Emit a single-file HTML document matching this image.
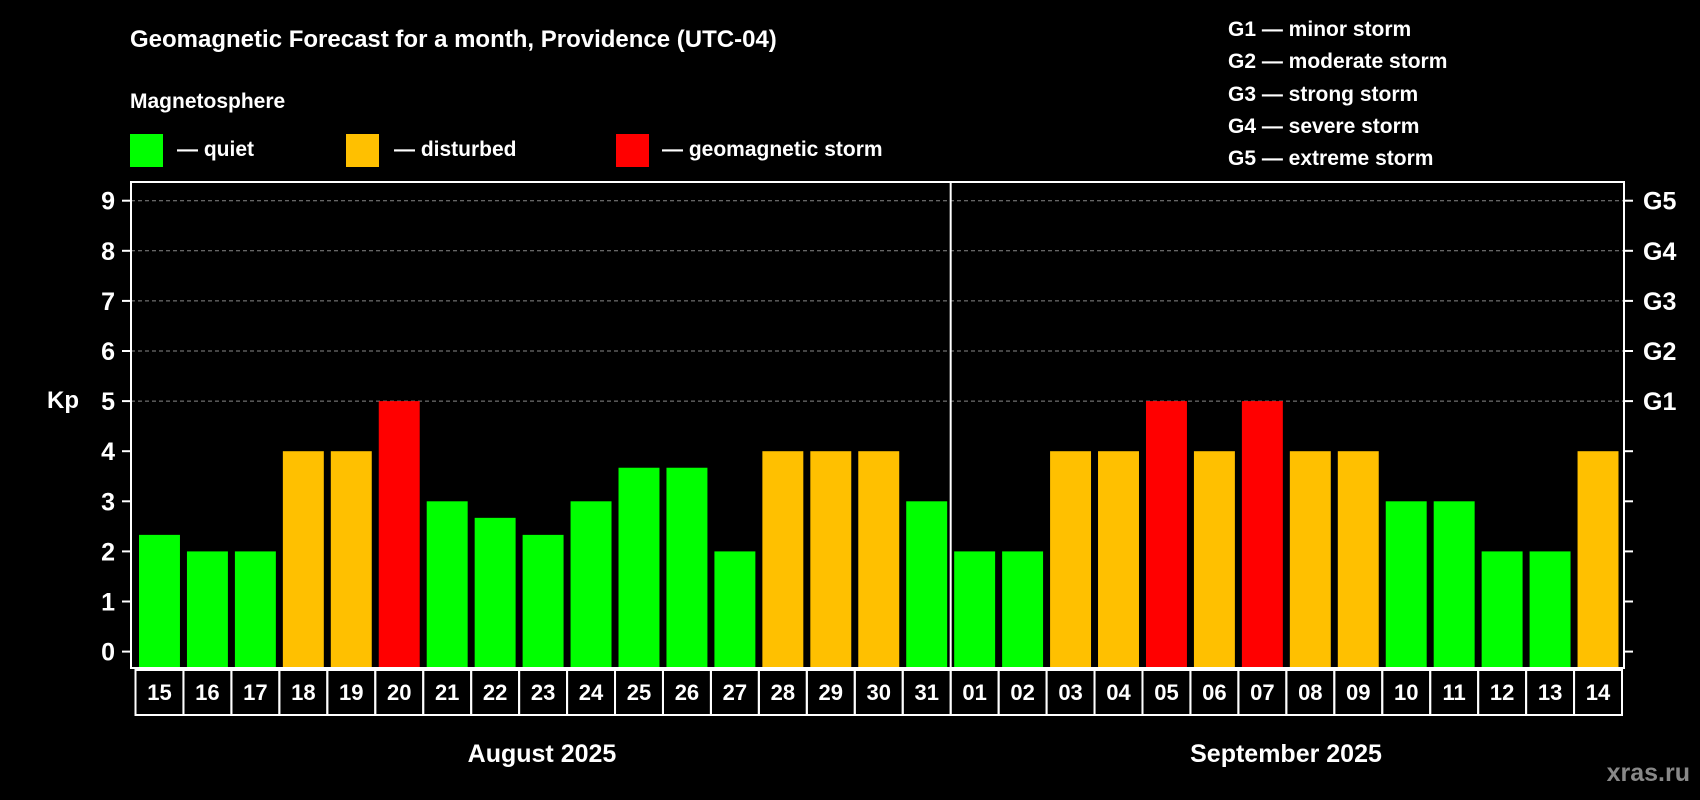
<!DOCTYPE html>
<html><head><meta charset="utf-8"><style>
html,body{margin:0;padding:0;background:#000;}
svg{display:block;font-family:"Liberation Sans",sans-serif;font-weight:bold;}
</style></head><body>
<svg id="c" width="1700" height="800" viewBox="0 0 1700 800">
<rect width="1700" height="800" fill="#000"/>
<text x="130" y="47" fill="#fff" font-size="24">Geomagnetic Forecast for a month, Providence (UTC-04)</text>
<text x="130" y="108" fill="#fff" font-size="21">Magnetosphere</text>
<rect x="130" y="134" width="33" height="33" fill="#00ff00"/>
<text x="177" y="156" fill="#fff" font-size="21">— quiet</text>
<rect x="346" y="134" width="33" height="33" fill="#ffc000"/>
<text x="394" y="156" fill="#fff" font-size="21">— disturbed</text>
<rect x="616" y="134" width="33" height="33" fill="#ff0000"/>
<text x="662" y="156" fill="#fff" font-size="21">— geomagnetic storm</text>
<g fill="#fff" font-size="21">
<text x="1228" y="36">G1 — minor storm</text>
<text x="1228" y="68">G2 — moderate storm</text>
<text x="1228" y="101">G3 — strong storm</text>
<text x="1228" y="133">G4 — severe storm</text>
<text x="1228" y="165">G5 — extreme storm</text>
</g>
<text x="63" y="408" fill="#fff" font-size="24" text-anchor="middle">Kp</text>
<text x="542" y="762" fill="#fff" font-size="25" text-anchor="middle">August 2025</text>
<text x="1286" y="762" fill="#fff" font-size="25" text-anchor="middle">September 2025</text>
<text x="1690" y="781" fill="#888" font-size="25" text-anchor="end">xras.ru</text>
<g id="plot"></g>
</svg>
<script>
const days = ["15","16","17","18","19","20","21","22","23","24","25","26","27","28","29","30","31","01","02","03","04","05","06","07","08","09","10","11","12","13","14"];
const kpValues = [2.33,2,2,4,4,5,3,2.67,2.33,3,3.67,3.67,2,4,4,4,3,2,2,4,4,5,4,5,4,4,3,3,2,2,4];
const yTicks = [0,1,2,3,4,5,6,7,8,9];
const gLabels = ["G1","G2","G3","G4","G5"];
const gLevels = [5,6,7,8,9];

const NS="http://www.w3.org/2000/svg";
const plot=document.getElementById('plot');
const L=131,R=1624,T=182,B=668,catL=135.5,catR=1622;
const slot=(catR-catL)/days.length;
const y=v=>651.6-50.1*v;
const x=i=>catL+i*slot;
function mk(tag,attrs,parent){const e=document.createElementNS(NS,tag);for(const k in attrs)e.setAttribute(k,attrs[k]);(parent||plot).appendChild(e);return e;}

gLevels.forEach((v,i)=>{
  const g=mk('line',{x1:L,x2:R,y1:y(v),y2:y(v),stroke:'#888','stroke-width':1,'stroke-dasharray':'4,3'});
  
  
  const t=mk('text',{x:1643,y:y(v)+9,fill:'#fff','font-size':25});
  t.textContent=gLabels[i];
  
  
});
kpValues.forEach((v,i)=>{
  const col=v>=5?'#ff0000':(v>=4?'#ffc000':'#00ff00');
  const b=mk('rect',{x:x(i)+3.5,y:y(v),width:slot-7,height:B-y(v),fill:col});
  
  
  const c=mk('rect',{x:x(i),y:670,width:slot,height:45,fill:'none',stroke:'#fff','stroke-width':2});
  
  
  const t=mk('text',{x:x(i)+slot/2,y:700,fill:'#fff','font-size':22,'text-anchor':'middle'});
  t.textContent=days[i];
  
  
});
yTicks.forEach(v=>{
  const l=mk('line',{x1:122,x2:L,y1:y(v),y2:y(v),stroke:'#fff','stroke-width':2});
  
  
  const r=mk('line',{x1:R,x2:1633,y1:y(v),y2:y(v),stroke:'#fff','stroke-width':2});
  
  
  const t=mk('text',{x:115,y:y(v)+9,fill:'#fff','font-size':25,'text-anchor':'end'});
  t.textContent=v;
  
  
});
const fr=mk('rect',{x:L,y:T,width:R-L,height:B-T,fill:'none',stroke:'#fff','stroke-width':2});


const dv=mk('line',{x1:x(17),x2:x(17),y1:T,y2:B,stroke:'#fff','stroke-width':2});


</script>
</body></html>
